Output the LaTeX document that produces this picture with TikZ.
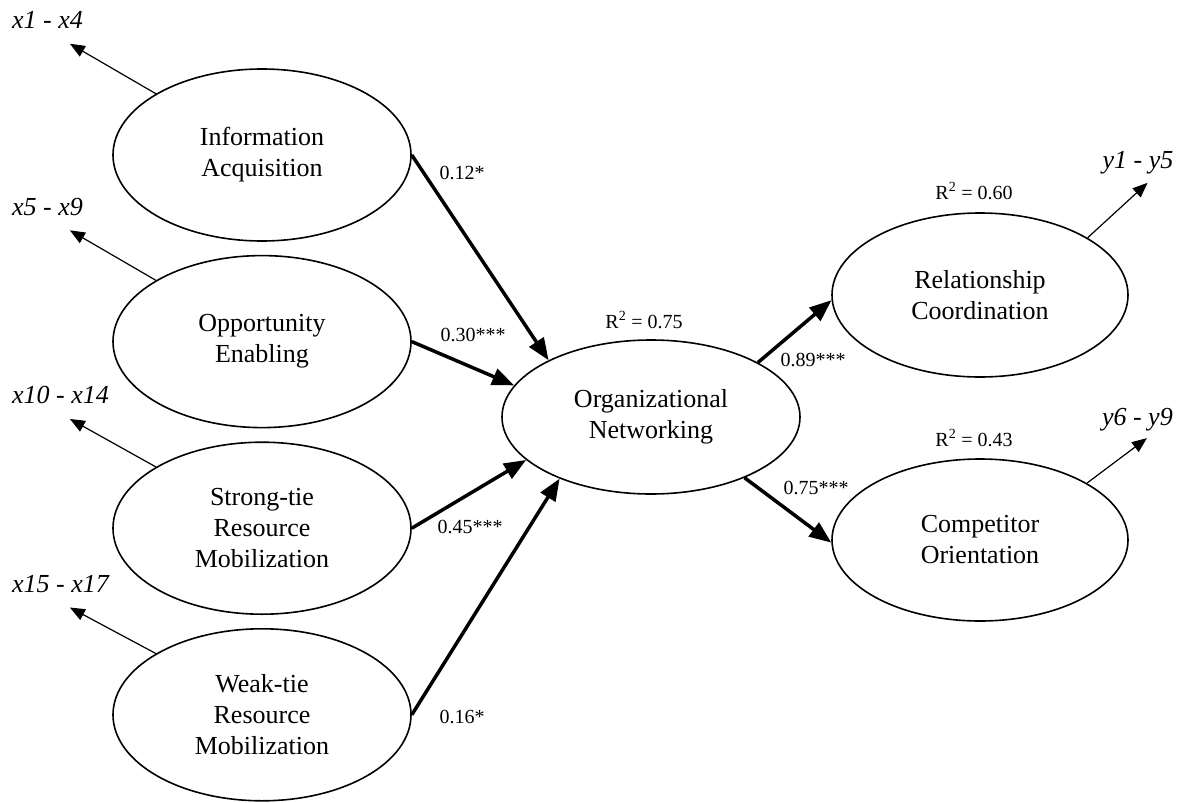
\documentclass[tikz,border=0pt]{standalone}
\usepackage{fontspec}
\setmainfont{Liberation Serif}
\usepackage{tikz}
\usetikzlibrary{positioning, arrows.meta, shapes.geometric}

\begin{document}
\begin{tikzpicture}[
    x=1pt, y=1pt,
    node distance=13pt,
    latent/.style={
        ellipse,
        draw=black,
        line width=1.6pt,
        minimum width=298pt,
        minimum height=172pt,
        inner sep=0pt,
        align=center,
        font=\fontsize{26}{31}\selectfont
    },
    effect/.style={
        line width=3.5pt,
        -{Triangle[length=22pt, width=17pt]}
    },
    loading/.style={
        line width=1.2pt,
        -{Triangle[length=15pt, width=12pt]}
    },
    coef/.style={font=\fontsize{20}{24}\selectfont},
    items/.style={font=\fontsize{26}{31}\selectfont\itshape, inner sep=0pt}
]
\useasboundingbox (0,0) rectangle (1184,-803);

% Latent variables
\node[latent] (info) at (262,-155) {Information\\Acquisition};
\node[latent, below=of info] (opp) {Opportunity\\Enabling};
\node[latent, below=of opp] (strong) {Strong-tie\\Resource\\Mobilization};
\node[latent, below=of strong] (weak) {Weak-tie\\Resource\\Mobilization};
\node[latent, minimum height=154pt] (org) at (651,-417) {Organizational\\Networking};
\node[latent, minimum width=296pt, minimum height=164pt] (rel) at (980,-295) {Relationship\\Coordination};
\node[latent, minimum width=296pt, minimum height=162pt] (comp) at (980,-540) {Competitor\\Orientation};

% Indicators
\coordinate (tinfo) at ([shift={(-86,50)}]info.150);
\coordinate (topp) at ([shift={(-86,50)}]opp.150);
\coordinate (tstrong) at ([shift={(-86,48)}]strong.150);
\coordinate (tweak) at ([shift={(-86,46)}]weak.150);
\coordinate (trel) at ([shift={(60,55)}]rel.28);
\coordinate (tcomp) at ([shift={(60,45)}]comp.28);

\draw[loading] (info.150) -- (tinfo);
\draw[loading] (opp.150) -- (topp);
\draw[loading] (strong.150) -- (tstrong);
\draw[loading] (weak.150) -- (tweak);
\draw[loading] (rel.28) -- (trel);
\draw[loading] (comp.28) -- (tcomp);

\node[items, anchor=base west] (linfo) at ([shift={(-58,15)}]tinfo) {x1 - x4};
\node[items, anchor=base west] (lopp) at ([shift={(-58,15)}]topp) {x5 - x9};
\node[items, anchor=base west] (lstrong) at ([shift={(-58,15)}]tstrong) {x10 - x14};
\node[items, anchor=base west] (lweak) at ([shift={(-58,15)}]tweak) {x15 - x17};
\node[items, anchor=base east] (lrel) at ([shift={(26,14)}]trel) {y1 - y5};
\node[items, anchor=base east] (lcomp) at ([shift={(26,13)}]tcomp) {y6 - y9};

% Structural paths
\draw[effect] (info.east) -- (org.151);
\draw[effect] (opp.east) -- (org.167);
\draw[effect] (strong.east) -- (org.199);
\draw[effect] (weak.east) -- (org.214);
\draw[effect] (org.27) -- (rel.182);
\draw[effect] (org.327) -- (comp.181);

% Coefficients
\node[coef] (c1) at (462,-173) {0.12*};
\node[coef] (c2) at (473,-335) {0.30***};
\node[coef] (c3) at (470,-527) {0.45***};
\node[coef] (c4) at (462,-717) {0.16*};
\node[coef] (c5) at (813,-360) {0.89***};
\node[coef] (c6) at (816,-488) {0.75***};

% Explained variance
\node[coef, above=7pt of org, xshift=-7pt] (r1) {R\textsuperscript{2} = 0.75};
\node[coef, above=9pt of rel, xshift=-6pt] (r2) {R\textsuperscript{2} = 0.60};
\node[coef, above=8pt of comp, xshift=-6pt] (r3) {R\textsuperscript{2} = 0.43};
\end{tikzpicture}
\end{document}
